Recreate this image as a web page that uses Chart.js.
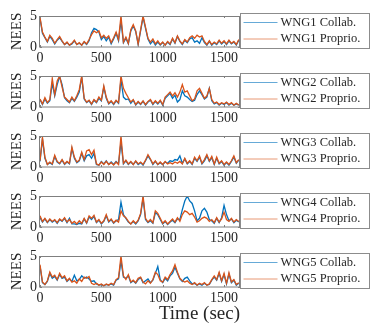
<!DOCTYPE html>
<html>
<head>
<meta charset="utf-8">
<script src="https://cdn.jsdelivr.net/npm/chart.js@4.4.1/dist/chart.umd.min.js"></script>
<style>
  body { margin: 0; background: #fff; }
  #wrap { position: relative; width: 371px; height: 324px; overflow: hidden; background: #fff; }
  canvas { position: absolute; left: 0; }
</style>
</head>
<body>
<div id="wrap">
  <canvas id="wng1" width="371" height="66" style="top:0px"></canvas>
  <canvas id="wng2" width="371" height="66" style="top:60px"></canvas>
  <canvas id="wng3" width="371" height="66" style="top:120px"></canvas>
  <canvas id="wng4" width="371" height="66" style="top:180px"></canvas>
  <canvas id="wng5" width="371" height="84" style="top:240px"></canvas>
</div>
<script>
// time stamps (sec)
const times = [
  0, 20, 40, 60, 80, 100, 120, 140, 160, 180,
  200, 220, 240, 260, 280, 300, 320, 340, 360, 380,
  400, 420, 440, 460, 480, 500, 520, 540, 560, 580,
  600, 620, 640, 660, 680, 700, 720, 740, 760, 780,
  800, 820, 840, 860, 880, 900, 920, 940, 960, 980,
  1000, 1020, 1040, 1060, 1080, 1100, 1120, 1140, 1160, 1180,
  1200, 1220, 1240, 1260, 1280, 1300, 1320, 1340, 1360, 1380,
  1400, 1420, 1440, 1460, 1480, 1500, 1520, 1540, 1560, 1580,
  1600, 1620
];
const xTickValues = [0, 500, 1000, 1500];
const yTickValues = [0, 5];

const wng1Collab = [
  4.6, 2.2, 1.5, 0.8, 1.7, 1.2, 0.5, 1.1, 1.5, 0.9,
  0.4, 0.7, 0.3, 0.5, 1.0, 0.4, 0.6, 0.3, 0.8, 0.4,
  1.0, 2.3, 3.0, 2.8, 2.4, 1.2, 1.7, 1.0, 1.6, 0.5,
  1.3, 2.2, 1.0, 4.2, 0.7, 1.4, 0.5, 2.6, 3.4, 2.5,
  0.4, 2.6, 4.8, 3.0, 1.3, 0.5, 1.0, 0.3, 0.8, 0.3,
  0.7, 0.3, 0.8, 0.4, 1.3, 0.6, 1.7, 0.9, 0.4, 1.1,
  0.7, 1.3, 1.5, 0.8, 1.0, 0.6, 1.5, 0.7, 0.3, 0.9,
  0.3, 0.7, 0.4, 1.0, 0.5, 0.9, 0.4, 1.0, 0.5, 0.8,
  0.3, 1.1
];
const wng1Proprio = [
  4.8, 2.4, 1.6, 0.9, 1.9, 1.4, 0.6, 1.2, 1.7, 1.0,
  0.4, 0.8, 0.3, 0.6, 1.1, 0.4, 0.7, 0.3, 0.9, 0.5,
  1.2, 2.0, 2.6, 2.3, 2.6, 1.5, 1.9, 1.4, 1.8, 0.7,
  1.5, 2.4, 1.2, 5.0, 0.8, 1.6, 0.6, 2.8, 3.6, 2.6,
  0.5, 2.8, 5.0, 3.2, 1.4, 0.8, 1.3, 0.5, 1.0, 0.4,
  0.8, 0.3, 0.9, 0.5, 1.4, 0.7, 1.8, 1.0, 0.5, 1.2,
  0.8, 1.5, 1.8, 1.4, 1.9, 1.6, 1.8, 0.9, 0.4, 1.0,
  0.4, 0.8, 0.5, 1.1, 0.6, 1.0, 0.5, 1.1, 0.6, 0.9,
  0.4, 1.2
];
const wng2Collab = [
  1.2, 0.4, 1.3, 0.6, 1.0, 3.8, 1.8, 3.6, 4.9, 3.6,
  1.5, 1.0, 0.7, 1.4, 0.9, 1.6, 2.4, 4.8, 1.3, 0.7,
  1.0, 0.4, 1.1, 0.7, 1.4, 1.0, 3.2, 1.4, 0.5, 0.9,
  0.4, 1.0, 0.6, 4.4, 1.6, 1.2, 1.3, 0.6, 1.1, 0.3,
  0.8, 0.4, 0.9, 0.3, 0.8, 1.1, 0.4, 0.9, 0.5, 1.0,
  0.3, 1.4, 1.8, 2.2, 1.4, 1.9, 0.8, 1.2, 2.6, 1.8,
  1.6, 1.2, 0.9, 1.1, 2.0, 2.6, 2.0, 1.3, 1.6, 3.0,
  1.0, 0.5, 0.7, 0.3, 0.6, 0.4, 0.7, 0.3, 0.6, 0.3,
  0.5, 0.3
];
const wng2Proprio = [
  1.3, 0.5, 1.5, 0.7, 1.2, 4.6, 2.0, 4.2, 5.0, 3.2,
  1.6, 1.2, 0.8, 1.6, 1.0, 1.8, 2.8, 5.0, 1.4, 0.8,
  1.1, 0.5, 1.2, 0.8, 1.6, 1.1, 3.4, 1.6, 0.6, 1.0,
  0.5, 1.1, 0.7, 5.0, 3.0, 2.2, 1.5, 0.8, 1.2, 0.4,
  0.9, 0.5, 1.0, 0.4, 0.9, 1.2, 0.5, 1.0, 0.6, 1.1,
  0.4, 1.6, 2.0, 2.4, 1.8, 2.3, 1.6, 2.4, 3.6, 2.4,
  2.6, 1.8, 1.0, 1.3, 2.6, 3.0, 2.2, 1.4, 1.8, 3.0,
  1.2, 0.6, 0.8, 0.4, 0.7, 0.5, 0.8, 0.4, 0.7, 0.3,
  0.6, 0.3
];
const wng3Collab = [
  0.9, 4.5, 1.4, 0.4, 0.7, 0.4, 1.7, 0.8, 0.5, 1.1,
  0.4, 0.8, 0.5, 3.0, 1.4, 0.7, 1.0, 2.2, 1.0, 1.8,
  2.0, 1.4, 2.2, 0.4, 0.3, 0.9, 0.5, 1.0, 0.4, 0.8,
  0.4, 0.9, 0.5, 4.0, 0.5, 1.0, 0.4, 0.8, 0.4, 0.9,
  0.4, 0.7, 0.3, 1.0, 1.8, 1.2, 0.4, 0.9, 0.4, 0.7,
  0.4, 0.8, 0.6, 1.0, 0.9, 1.2, 1.1, 1.8, 0.6, 1.3,
  0.5, 0.9, 0.4, 1.4, 0.9, 1.6, 0.5, 1.0, 1.8, 0.9,
  1.5, 0.4, 1.4, 0.5, 0.9, 0.3, 0.7, 0.3, 0.9, 1.6,
  0.6, 1.1
];
const wng3Proprio = [
  1.0, 4.8, 1.6, 0.4, 0.8, 0.5, 1.9, 0.9, 0.6, 1.2,
  0.5, 0.9, 0.6, 3.2, 1.6, 0.8, 1.1, 2.4, 1.2, 2.6,
  2.8, 2.0, 2.7, 0.5, 0.3, 0.8, 0.4, 0.9, 0.4, 0.7,
  0.3, 0.8, 0.4, 5.0, 0.6, 1.1, 0.5, 0.9, 0.4, 1.0,
  0.5, 0.8, 0.4, 1.1, 2.0, 1.3, 0.5, 1.0, 0.4, 0.8,
  0.4, 0.9, 0.5, 0.7, 0.5, 0.8, 0.6, 0.9, 0.5, 1.4,
  0.6, 1.0, 0.5, 1.6, 1.0, 1.8, 0.6, 1.2, 2.0, 1.0,
  1.7, 0.5, 1.6, 0.6, 1.0, 0.4, 0.8, 0.4, 1.0, 1.8,
  0.7, 1.2
];
const wng4Collab = [
  1.5, 0.8, 1.3, 0.7, 1.2, 0.8, 1.1, 0.6, 1.2, 0.9,
  1.4, 0.7, 1.4, 0.5, 0.5, 0.4, 0.6, 0.5, 1.3, 0.6,
  1.6, 1.2, 1.7, 0.7, 1.1, 0.5, 0.9, 1.8, 0.8, 1.2,
  0.6, 1.0, 1.2, 4.0, 2.0, 1.4, 0.8, 0.5, 0.9, 0.5,
  1.0, 2.0, 4.6, 1.2, 0.7, 1.0, 0.6, 2.3, 2.0, 1.2,
  0.5, 0.9, 0.4, 0.8, 1.1, 0.7, 1.3, 1.2, 2.8, 4.2,
  5.0, 4.2, 3.8, 2.6, 1.0, 1.4, 2.6, 3.0, 2.4, 1.2,
  1.0, 0.6, 1.4, 0.7, 1.5, 3.5, 2.0, 1.0, 1.3, 0.7,
  1.1, 0.8
];
const wng4Proprio = [
  1.8, 0.9, 1.4, 0.8, 1.3, 0.9, 1.2, 0.7, 1.3, 1.0,
  1.5, 0.8, 1.2, 0.6, 0.9, 0.5, 1.0, 0.6, 1.4, 0.7,
  1.8, 1.4, 1.9, 0.8, 1.2, 0.6, 1.0, 2.0, 0.9, 1.3,
  0.7, 1.1, 0.8, 2.6, 1.8, 1.5, 0.9, 0.5, 1.0, 0.6,
  1.1, 2.2, 5.0, 1.4, 0.8, 1.2, 0.7, 2.6, 2.2, 1.4,
  0.6, 1.0, 0.5, 0.9, 1.3, 0.8, 1.5, 0.9, 2.0, 2.6,
  2.4, 2.0, 2.2, 1.6, 0.8, 1.0, 1.4, 1.6, 1.4, 0.9,
  1.2, 0.7, 1.5, 0.8, 1.3, 2.4, 1.2, 0.9, 1.4, 0.8,
  1.2, 0.9
];
const wng5Collab = [
  3.4, 0.7, 0.4, 0.9, 2.2, 1.4, 1.7, 1.1, 2.0, 1.4,
  1.6, 0.9, 1.3, 0.9, 1.9, 1.0, 1.2, 1.8, 1.4, 1.6,
  1.3, 0.9, 1.0, 0.5, 0.3, 0.4, 0.2, 0.4, 0.3, 0.5,
  0.3, 1.1, 1.3, 4.2, 1.6, 1.4, 1.8, 0.7, 1.0, 0.6,
  1.2, 1.5, 0.7, 1.0, 1.3, 0.7, 1.1, 2.2, 3.3, 1.2,
  0.7, 1.4, 1.0, 1.8, 2.2, 3.2, 2.2, 1.3, 0.9, 1.4,
  1.6, 1.0, 0.5, 0.6, 0.3, 0.5, 0.3, 0.6, 0.3, 0.4,
  1.1, 1.6, 1.1, 2.2, 0.9, 2.0, 0.5, 2.1, 0.7, 1.1,
  0.3, 0.6
];
const wng5Proprio = [
  3.6, 0.8, 0.4, 1.0, 2.4, 1.6, 1.9, 1.2, 2.2, 1.5,
  1.8, 1.0, 1.4, 0.8, 1.0, 0.6, 1.3, 0.9, 1.6, 1.4,
  1.7, 0.6, 0.4, 0.6, 0.3, 0.5, 0.2, 0.5, 0.3, 0.6,
  0.4, 1.2, 1.5, 5.0, 1.8, 1.2, 2.0, 0.8, 1.1, 0.7,
  1.4, 1.6, 0.8, 0.5, 1.0, 0.6, 1.2, 2.4, 2.0, 1.0,
  0.8, 1.6, 1.2, 2.0, 2.6, 3.6, 2.4, 1.4, 1.0, 0.8,
  1.0, 0.6, 0.4, 0.7, 0.3, 0.6, 0.4, 0.7, 0.3, 0.5,
  1.2, 1.8, 1.2, 2.4, 1.0, 2.2, 0.6, 2.3, 0.8, 1.2,
  0.4, 0.7
];

const serif = '"Liberation Serif", "Times New Roman", serif';
Chart.defaults.font.family = serif;
Chart.defaults.color = '#262626';

// axes box with small inward ticks
const frameBox = {
  id: 'frameBox',
  afterDatasetsDraw(chart) {
    const { ctx, chartArea: a, scales } = chart;
    ctx.save();
    ctx.strokeStyle = '#7f7f7f';
    ctx.lineWidth = 1;
    ctx.strokeRect(a.left - 0.5, a.top + 0.5, a.width, a.height - 0.5);
    ctx.beginPath();
    scales.x.ticks.forEach(t => {
      const px = Math.round(scales.x.getPixelForValue(t.value)) + 0.5;
      ctx.moveTo(px, a.bottom); ctx.lineTo(px, a.bottom - 2);
      ctx.moveTo(px, a.top); ctx.lineTo(px, a.top + 2);
    });
    scales.y.ticks.forEach(t => {
      const py = Math.round(scales.y.getPixelForValue(t.value)) + 0.5;
      ctx.moveTo(a.left, py); ctx.lineTo(a.left + 2, py);
      ctx.moveTo(a.right, py); ctx.lineTo(a.right - 2, py);
    });
    ctx.stroke();
    ctx.restore();
  }
};

// boxed legend right of the plot
const boxLegend = {
  id: 'boxLegend',
  afterDraw(chart) {
    const { ctx, chartArea: a } = chart;
    const x0 = a.right + 0.5, y0 = a.top - 2.5, w = 129, h = a.height + 4;
    ctx.save();
    ctx.fillStyle = '#fff';
    ctx.fillRect(x0, y0, w, h);
    ctx.strokeStyle = '#8c8c8c';
    ctx.lineWidth = 1;
    ctx.strokeRect(x0, y0, w, h);
    ctx.font = '12.5px ' + serif;
    ctx.textBaseline = 'middle';
    chart.data.datasets.forEach((ds, i) => {
      const y = y0 + 9 + i * 16.5;
      ctx.globalAlpha = 0.6;
      ctx.strokeStyle = ds.borderColor;
      ctx.beginPath();
      ctx.moveTo(x0 + 3, y);
      ctx.lineTo(x0 + 37, y);
      ctx.stroke();
      ctx.globalAlpha = 1;
      ctx.fillStyle = '#262626';
      ctx.fillText(ds.label, x0 + 40, y);
    });
    ctx.restore();
  }
};

function makeChart(id, name, collab, proprio, last) {
  return new Chart(document.getElementById(id), {
    type: 'line',
    data: {
      labels: times,
      datasets: [{
        label: name + ' Collab.',
        data: collab,
        borderColor: '#0072BD',
        borderWidth: 1.3,
        pointRadius: 0,
        order: 2
      }, {
        label: name + ' Proprio.',
        data: proprio,
        borderColor: '#D95319',
        borderWidth: 1.3,
        pointRadius: 0,
        order: 1
      }]
    },
    options: {
      responsive: false,
      animation: false,
      events: [],
      layout: {
        padding: { left: 8, top: 16, right: 131, bottom: 0 }
      },
      plugins: {
        legend: { display: false },
        tooltip: { enabled: false }
      },
      scales: {
        x: {
          type: 'linear',
          min: 0,
          max: 1630,
          grid: { display: false, drawTicks: false },
          border: { display: false },
          afterBuildTicks: s => { s.ticks = xTickValues.map(v => ({ value: v })); },
          afterFit: s => { s.height = last ? 37 : 19; },
          ticks: {
            maxRotation: 0,
            autoSkip: false,
            padding: 3,
            font: { size: 14 },
            callback: v => String(v)
          },
          title: {
            display: last,
            text: 'Time (sec)',
            align: 'end',
            padding: 0,
            font: { size: 19, lineHeight: 1 }
          }
        },
        y: {
          min: 0,
          max: 5,
          grid: { display: false, drawTicks: false },
          border: { display: false },
          afterBuildTicks: s => { s.ticks = yTickValues.map(v => ({ value: v })); },
          afterFit: s => { s.width = 32; },
          ticks: { padding: 3, font: { size: 14 }, callback: v => String(v) },
          title: {
            display: true,
            text: 'NEES',
            padding: 0,
            font: { size: 15 }
          }
        }
      }
    },
    plugins: [frameBox, boxLegend]
  });
}

makeChart('wng1', 'WNG1', wng1Collab, wng1Proprio, false);
makeChart('wng2', 'WNG2', wng2Collab, wng2Proprio, false);
makeChart('wng3', 'WNG3', wng3Collab, wng3Proprio, false);
makeChart('wng4', 'WNG4', wng4Collab, wng4Proprio, false);
makeChart('wng5', 'WNG5', wng5Collab, wng5Proprio, true);
</script>
</body>
</html>
